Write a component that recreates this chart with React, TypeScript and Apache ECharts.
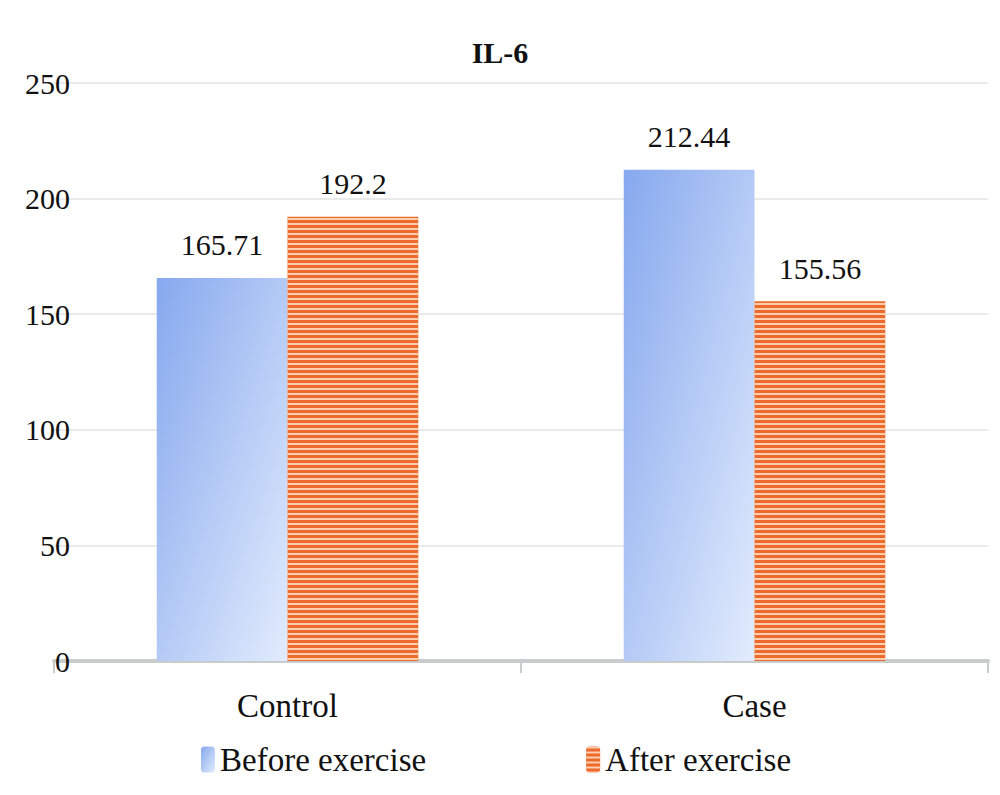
import React, { useEffect, useRef } from 'react';
import * as echarts from 'echarts';

const categories = ['Control', 'Case'];
const before = [165.71, 212.44];
const after = [192.2, 155.56];
const yTicks = [0, 50, 100, 150, 200, 250];

const FONT = '"Liberation Serif", "DejaVu Serif", serif';

const App: React.FC = () => {
  const chartRef = useRef<HTMLDivElement>(null);

  useEffect(() => {
    if (!chartRef.current) return;
    const chart = echarts.init(chartRef.current, null, { renderer: 'svg' });

    const label = {
      show: true,
      position: 'top',
      distance: 18,
      color: '#111',
      fontFamily: FONT,
      fontSize: 30,
    };

    chart.setOption({
      animation: false,
      title: {
        text: 'IL-6',
        left: 'center',
        top: 24,
        textStyle: { fontFamily: FONT, fontSize: 30, fontWeight: 'bold', color: '#111' },
      },
      legend: {
        left: 188,
        top: 730,
        itemWidth: 14,
        itemHeight: 26,
        itemGap: 160,
        textStyle: { fontFamily: FONT, fontSize: 33, color: '#111' },
        data: ['Before exercise', 'After exercise'],
      },
      grid: { left: 46, right: 4, top: 75, bottom: 126, containLabel: false },
      xAxis: {
        type: 'category',
        data: categories,
        axisLine: { lineStyle: { color: '#c8cccc', width: 4 } },
        axisTick: { show: true, length: 12, lineStyle: { color: '#c8cccc', width: 2 } },
        axisLabel: { fontFamily: FONT, fontSize: 33, color: '#111', margin: 28 },
      },
      yAxis: {
        type: 'value',
        min: yTicks[0],
        max: yTicks[yTicks.length - 1],
        interval: 50,
        axisLine: { show: false },
        axisTick: { show: false },
        axisLabel: { fontFamily: FONT, fontSize: 30, color: '#111', margin: -16, align: 'right' },
        splitLine: { lineStyle: { color: '#e2e4e4', width: 1.5 } },
      },
      series: [
        {
          name: 'Before exercise',
          type: 'bar',
          data: before,
          barGap: '0%',
          barCategoryGap: '44%',
          label,
          itemStyle: {
            color: new echarts.graphic.LinearGradient(0, 0, 1, 1, [
              { offset: 0, color: '#86a8ee' },
              { offset: 1, color: '#e2ecfd' },
            ]),
          },
        },
        {
          name: 'After exercise',
          type: 'bar',
          data: after,
          label,
          itemStyle: {
            color: '#ee6a2c',
            decal: {
              symbol: 'rect',
              color: 'rgba(255,225,200,0.85)',
              dashArrayX: [1, 0],
              dashArrayY: [2, 3],
              symbolSize: 1,
              rotation: 0,
            },
          },
        },
      ],
    });

    return () => chart.dispose();
  }, []);

  return <div ref={chartRef} style={{ width: 984, height: 779 }} />;
};

export default App;
